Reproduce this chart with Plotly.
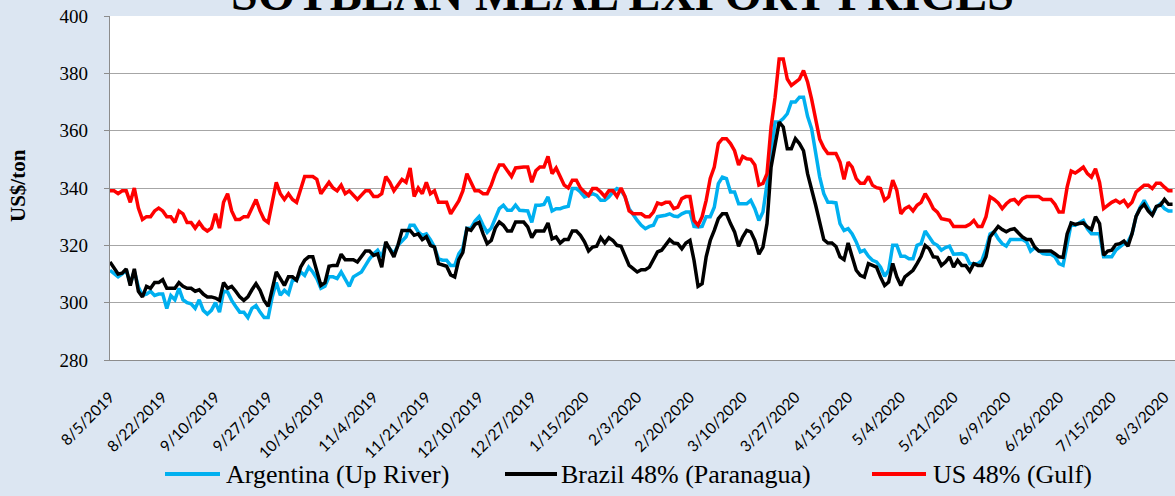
import pandas as pd
import plotly.graph_objects as go

# ---------------- data ----------------
START_DATE = "2019-08-05"
N_DAYS = 263  # weekday observations, 8/5/2019 .. 8/5/2020

US_GULF = [
    339, 339, 338, 339, 339, 335, 340, 333, 329, 330,
    330, 332, 333, 332, 330, 330, 328, 332, 331, 328,
    328, 326, 328, 326, 325, 326, 331, 326, 335, 338,
    332, 329, 329, 330, 330, 333, 336, 332, 329, 328,
    335, 342, 338, 336, 338, 336, 335, 340, 344, 344,
    344, 343, 338, 340, 342, 340, 339, 341, 338, 339,
    337.5, 336, 337.5, 339, 339, 337, 337, 338, 344, 342,
    339, 341, 343, 342, 347, 337, 340, 338, 342, 338,
    339, 335, 335, 335, 331, 333, 335.5, 339, 345, 342,
    339, 339, 338, 338, 341, 345, 348, 348, 346, 344,
    347, 347.3, 347.3, 347.3, 342, 346, 347.3, 347.3, 351, 345,
    347, 344, 341, 340, 342.7, 342.7, 340, 338.6, 337.4, 339.8,
    339.8, 338.6, 337, 339, 339, 337, 340, 337, 332, 331,
    331, 331, 330, 330, 331.6, 334.8, 334.3, 335, 335, 332.8,
    333.3, 336.3, 337, 337, 328.7, 327, 330, 335.7, 343.3, 347.3,
    355.5, 357.2, 357.2, 355.5, 353, 348, 351, 350.2, 350, 348,
    341, 341.6, 345, 361.3, 371.7, 385, 385, 378, 375.8, 377,
    378, 381, 377, 371, 364, 357, 354, 352, 352, 352,
    349, 343, 349, 347.3, 343.3, 341.7, 341.7, 344, 341, 340.1,
    339.8, 335.7, 336.9, 342.7, 339.2, 331, 332.8, 333.6, 332, 334,
    335, 338, 335.7, 332.8, 331.6, 329.3, 329, 328.7, 326.6, 326.6,
    326.6, 326.6, 327.3, 328.7, 326.6, 326.6, 330, 336.9, 336, 334.8,
    332.8, 334.5, 335.7, 336, 334.5, 336.3, 337, 337, 337, 337,
    336, 336, 336, 334.3, 331.6, 331.6, 340.3, 345.9, 345.2, 346.2,
    347.3, 345, 343.8, 346.7, 342, 332.8, 334, 335, 335.7, 334.8,
    335.7, 333.6, 335, 338.6, 339.8, 341, 341, 339.8, 341.7, 341.7,
    340.3, 339, 339,
]

ARGENTINA = [
    311.3, 310, 309, 310, 311.5, 306.6, 311, 305.5, 302.6, 303,
    304, 302.5, 303, 303, 298, 302.5, 301, 305, 301, 300,
    299.6, 298, 301, 297.3, 296, 297.3, 300, 296.7, 304, 303.7,
    300.8, 298.7, 296.7, 296.7, 294.8, 298, 299, 296.7, 294.8, 294.8,
    302, 307, 302.6, 304.3, 303, 307.8, 307.8, 310.7, 309.5, 312.4,
    310.7, 308.4, 305, 305.7, 309, 309, 308.4, 310.7, 308.4, 305.7,
    309, 310, 310.7, 313, 315.3, 317, 318.3, 316, 320.6, 318.8,
    317, 320, 321.7, 323, 327, 327, 324.7, 323.5, 324, 322,
    319.4, 315.3, 314.8, 314.8, 313, 313, 317, 319, 326, 326,
    328.5, 330, 327, 324.5, 326, 329.5, 332.8, 334, 332.2, 332.2,
    334, 332.2, 332.2, 332, 328, 334, 334, 334.3, 336.9, 332,
    332.8, 332.8, 333.3, 333.6, 339.8, 339.8, 338.6, 336.9, 337.4, 338,
    337.4, 335.7, 335.7, 336.9, 338.6, 339.8, 339.2, 336.9, 332.8, 330.5,
    328.7, 327, 325.8, 326.6, 327, 330, 330.2, 330.5, 331, 330.2,
    330, 331, 331.6, 331.6, 326.6, 326.4, 326.6, 330, 330, 333.3,
    341.5, 343.8, 343.3, 338.6, 338.6, 334.5, 334.5, 334.5, 335.7, 332.8,
    328.7, 331.6, 341.5, 353.1, 363, 363, 364.2, 365.9, 370, 370,
    371.7, 371.7, 365, 360.7, 352, 343.8, 338, 335, 335, 334.8,
    327.6, 325.2, 325.8, 324, 321.2, 317.7, 318.3, 316.2, 314.8, 314.2,
    312.4, 309.2, 311.3, 320, 320, 316.2, 316.2, 315.3, 315.3, 320,
    320.6, 325, 322.9, 320.8, 320, 318.3, 319.2, 319.7, 316.9, 316.9,
    317.1, 316.5, 313.6, 313.6, 313.6, 314.8, 318.8, 324, 324.7, 322.3,
    320.6, 319.7, 322, 322, 322, 322, 321.2, 318, 319.2, 318,
    317.1, 316.9, 316.9, 316, 313.6, 313, 320.6, 327.6, 327, 327.8,
    328.7, 325.8, 324, 324, 324, 316, 316, 316, 318.3, 319.4,
    320.6, 321.2, 324, 330, 333.3, 335.7, 332.8, 330.5, 333.3, 334.5,
    332.8, 332, 332,
]

BRAZIL = [
    314.2, 312, 310, 310.3, 311.8, 306, 311.8, 304, 302, 305.7,
    305, 307, 307, 308, 305, 305, 305, 307, 305.7, 305,
    305, 304, 304.5, 303, 302, 302, 301.6, 300.8, 307, 305,
    305.7, 304, 302, 300.8, 302, 304.5, 306.6, 304.3, 300.8, 298.7,
    304.3, 310.7, 308.4, 306, 309, 309, 307.8, 312.4, 314.8, 316,
    316, 311.3, 306, 307, 312.7, 313, 313, 316.9, 315, 315,
    315, 314.2, 316, 318, 318, 316.5, 317, 312.4, 321.2, 318.8,
    316, 320, 325.2, 325.2, 325.2, 323.5, 324, 322, 323, 320,
    319.4, 313.6, 313, 312.7, 309.7, 309, 315, 317.5, 325.8, 325.2,
    327.3, 328, 324, 320.6, 321.7, 326, 328.1, 327, 325, 325,
    328.1, 328.1, 328.1, 326.4, 322.7, 325, 325, 325, 327.8, 322.3,
    322.9, 320.8, 322, 322, 325, 325, 323.5, 321.2, 318, 319.4,
    319.7, 322.7, 320.8, 322.7, 321.7, 320, 319.7, 316, 313, 311.9,
    310.7, 311.5, 311.5, 312.4, 314.8, 317.7, 318.3, 320.3, 322, 320.8,
    320.6, 318.8, 320.8, 321.7, 314.8, 305.7, 306.6, 316, 321.7, 325.2,
    329.3, 331, 331, 327.6, 324.7, 319.7, 322.9, 325.2, 324.7, 321.7,
    316.9, 319.4, 327.6, 347.3, 355.5, 363, 361.3, 353.7, 353.7, 357.2,
    355.5, 353, 345, 340, 334, 328, 322, 320.8, 320.8, 319.6,
    316, 315, 320.8, 316, 311.3, 309.5, 308.9, 313.6, 313, 312.4,
    308.9, 306, 307.2, 313.7, 309, 306, 309, 310, 311.3, 313.6,
    316.2, 320, 318.8, 316, 315.8, 313, 314.2, 316, 312.4, 314.8,
    313, 313, 311, 313.6, 313, 313, 316, 322.9, 324.7, 326.6,
    325.5, 324.7, 325.5, 325.8, 324.3, 322.9, 322, 322, 319.4, 318,
    318, 318, 318, 317.1, 316, 315.8, 324, 327.8, 327.3, 327.6,
    327.8, 326.4, 325.5, 330, 327.6, 316.5, 318, 318.3, 320.3, 320.6,
    321.5, 319.7, 324, 330.1, 332.8, 334.3, 332, 330.5, 333.6, 334,
    336, 334.3, 334.3,
]

TICK_LABELS = [
    "8/5/2019", "8/22/2019", "9/10/2019", "9/27/2019", "10/16/2019",
    "11/4/2019", "11/21/2019", "12/10/2019", "12/27/2019", "1/15/2020",
    "2/3/2020", "2/20/2020", "3/10/2020", "3/27/2020", "4/15/2020",
    "5/4/2020", "5/21/2020", "6/9/2020", "6/26/2020", "7/15/2020",
    "8/3/2020",
]

SERIES_NAMES = ["Argentina (Up River)", "Brazil 48% (Paranagua)", "US 48% (Gulf)"]
SERIES_COLORS = ["#00B0F0", "#000000", "#FF0000"]

dates = [f"{d.month}/{d.day}/{d.year}" for d in pd.bdate_range(START_DATE, periods=N_DAYS)]

# ---------------- figure ----------------
W, H = 1175, 496
L, R, T, B = 110, 0, 16, 136
PW, PH = W - L - R, H - T - B

def px_x(x):
    return (x - L) / PW

def px_y(y):
    return (H - B - y) / PH

fig = go.Figure()
for name, color, vals in zip(SERIES_NAMES, SERIES_COLORS, [ARGENTINA, BRAZIL, US_GULF]):
    fig.add_trace(go.Scatter(x=dates, y=vals, mode="lines", name=name,
                             line=dict(color=color, width=3.5), showlegend=False))

XR = [0, 262.6]
fig.update_layout(
    width=W, height=H,
    margin=dict(l=L, r=R, t=T, b=B, pad=0),
    paper_bgcolor="#DCE6F2", plot_bgcolor="#FFFFFF",
    xaxis=dict(type="category", categoryorder="array", categoryarray=dates,
               range=XR, tickmode="array", tickvals=TICK_LABELS, ticktext=TICK_LABELS,
               tickangle=-45, ticks="", showgrid=False, zeroline=False,
               showline=True, linecolor="#8C8C8C", linewidth=1.3,
               tickfont=dict(family="Lato", size=15.5, color="#000000"),
               ticklabelstandoff=21, automargin=False),
    xaxis2=dict(overlaying="x", anchor="y", side="bottom", range=XR,
                tickmode="linear", tick0=0, dtick=5, ticks="outside", ticklen=5,
                tickcolor="#8C8C8C", tickwidth=1.3, showticklabels=False,
                showgrid=False, zeroline=False, showline=False),
    yaxis=dict(range=[280, 400], tickmode="linear", tick0=280, dtick=20,
               showgrid=True, gridcolor="#A6A6A6", gridwidth=1.3, zeroline=False,
               showline=True, linecolor="#8C8C8C", linewidth=1.3,
               ticks="outside", ticklen=5, tickcolor="#8C8C8C", tickwidth=1.3,
               tickfont=dict(family="Liberation Serif", size=19, color="#000000"),
               ticklabelstandoff=12, automargin=False),
)

# title (partly cut off at the top, as in the reference)
fig.add_annotation(text="<b>SOYBEAN MEAL EXPORT PRICES</b>", xref="paper", yref="paper",
                   x=px_x(622.5), y=1, xanchor="center", yanchor="bottom", yshift=-6,
                   showarrow=False, font=dict(family="Liberation Serif", size=48, color="#000000"))

# y-axis title
fig.add_annotation(text="<b>US$/ton</b>", xref="paper", yref="paper",
                   x=px_x(18), y=px_y(186), xanchor="center", yanchor="middle",
                   textangle=-90, showarrow=False,
                   font=dict(family="Liberation Serif", size=21, color="#000000"))

# legend
LEG_Y = 474
leg_lines = [(165, 220), (505, 557), (872, 926)]
leg_text_x = [224, 559, 931]
for name, color, (x0, x1), tx in zip(SERIES_NAMES, SERIES_COLORS, leg_lines, leg_text_x):
    fig.add_shape(type="line", xref="paper", yref="paper",
                  x0=px_x(x0), x1=px_x(x1), y0=px_y(LEG_Y), y1=px_y(LEG_Y),
                  line=dict(color=color, width=4))
    fig.add_annotation(text=name, xref="paper", yref="paper", x=px_x(tx), y=px_y(LEG_Y),
                       xanchor="left", yanchor="middle", showarrow=False,
                       font=dict(family="Liberation Serif", size=26, color="#000000"))

fig.write_html("out.html", config={"displayModeBar": False},
               post_script="document.body.style.margin='0px';")
